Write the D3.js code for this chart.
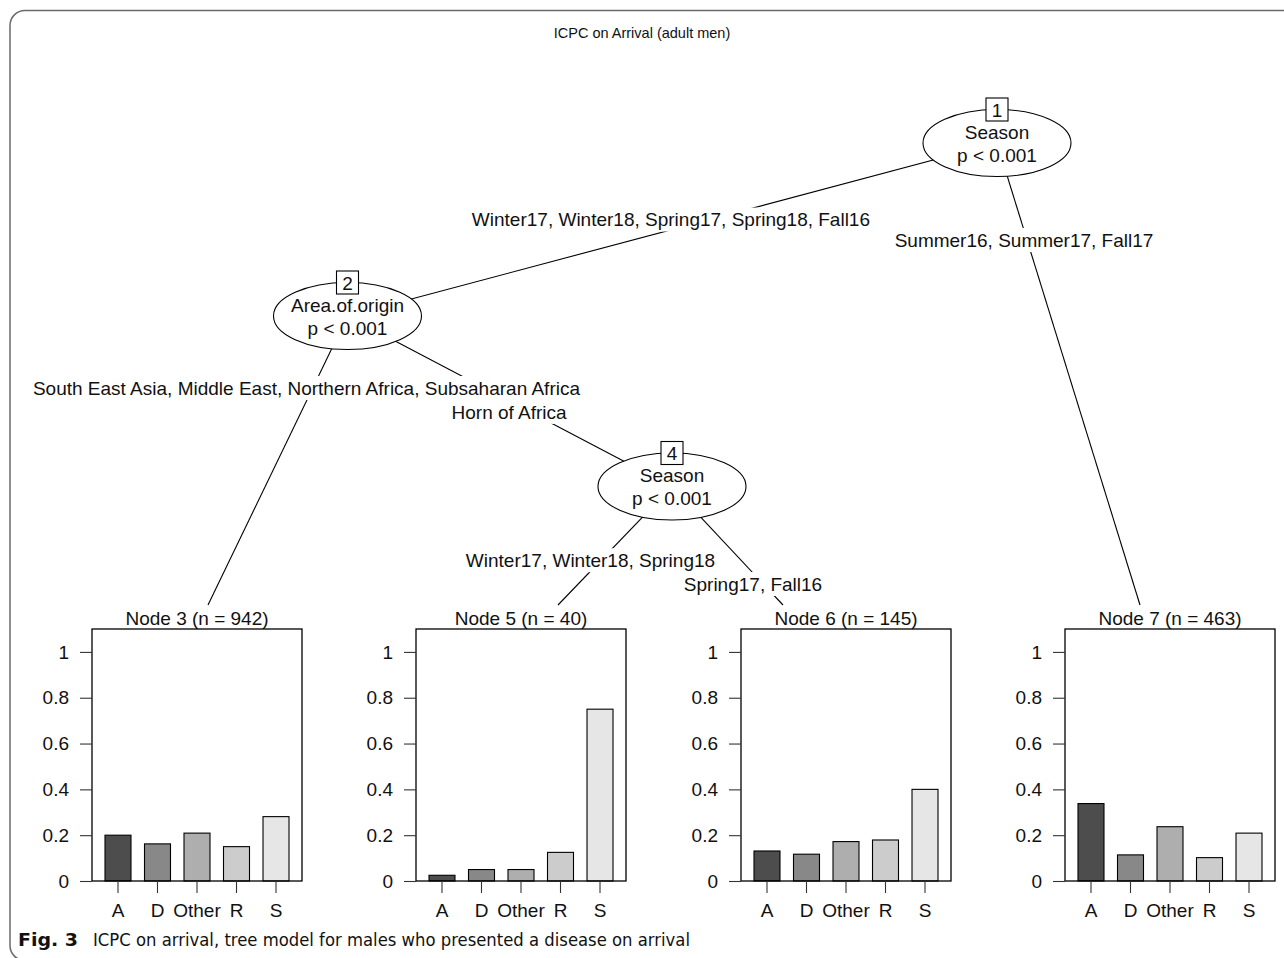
<!DOCTYPE html>
<html>
<head>
<meta charset="utf-8">
<script src="https://cdn.jsdelivr.net/npm/d3@7/dist/d3.min.js"></script>
<style>
  html, body { margin: 0; padding: 0; background: #fff; }
  svg { display: block; }
  text { font-family: "Liberation Sans", Arial, Helvetica, sans-serif; fill: #111; }
</style>
</head>
<body>
<svg id="chart" width="1284" height="958"></svg>
<script>
// ---- data -------------------------------------------------------------
const categories = ["A", "D", "Other", "R", "S"];
const barColors = ["#4d4d4d", "#888888", "#aeaeae", "#cccccc", "#e6e6e6"];

const terminalIds = [3, 5, 6, 7];
const terminalN = [942, 40, 145, 463];
const node3Props = [0.200, 0.162, 0.209, 0.150, 0.281];
const node5Props = [0.025, 0.050, 0.050, 0.125, 0.750];
const node6Props = [0.131, 0.117, 0.172, 0.179, 0.400];
const node7Props = [0.338, 0.114, 0.237, 0.102, 0.209];
const terminalProps = [node3Props, node5Props, node6Props, node7Props];

const yTickValues = [0, 0.2, 0.4, 0.6, 0.8, 1];
const yTickLabels = ["0", "0.2", "0.4", "0.6", "0.8", "1"];

const innerIds = [1, 2, 4];
const innerVars = ["Season", "Area.of.origin", "Season"];
const innerP = ["p < 0.001", "p < 0.001", "p < 0.001"];

// edges: parent -> child, with split labels
const edgeFrom = [1, 1, 2, 2, 4, 4];
const edgeTo = [2, 7, 3, 4, 5, 6];
const edgeLabels = [
  "Winter17, Winter18, Spring17, Spring18, Fall16",
  "Summer16, Summer17, Fall17",
  "South East Asia, Middle East, Northern Africa, Subsaharan Africa",
  "Horn of Africa",
  "Winter17, Winter18, Spring18",
  "Spring17, Fall16"
];

const chartTitle = "ICPC on Arrival (adult men)";
const captionBold = "Fig. 3";
const captionText = "ICPC on arrival, tree model for males who presented a disease on arrival";

// ---- layout -----------------------------------------------------------
const FONT = 19;
const innerPos = { 1: [997, 143], 2: [347.5, 316], 4: [672, 486.5] };
const ellRx = 74, ellRy = 33.5;
const panelLeft = [92, 416, 741, 1065];
const panelW = 210;
const panelTop = 629, panelBottom = 881;
const edgeTargetX = { 3: 208, 5: 558, 6: 783, 7: 1140 };
const edgeTargetY = 605;
// label placement along each edge: fraction t and vertical shift
const labelT = [0.502, 0.189, 0.294, 0.498, 0.715, 0.73];
const labelDy = [-10.3, 9.7, -13, 11, -11, 11];

const svg = d3.select("#chart");

// outer rounded frame
svg.append("rect")
  .attr("x", 10).attr("y", 10.5)
  .attr("width", 1300).attr("height", 950)
  .attr("rx", 15).attr("ry", 15)
  .attr("fill", "none").attr("stroke", "#6a6a6a").attr("stroke-width", 1.5);

// title
svg.append("text")
  .attr("x", 642).attr("y", 38)
  .attr("text-anchor", "middle")
  .attr("font-size", 14.5)
  .text(chartTitle);

function nodePoint(id) {
  if (innerPos[id]) return innerPos[id];
  return [edgeTargetX[id], edgeTargetY];
}

// edges
const edges = edgeFrom.map((f, i) => {
  const p = nodePoint(f), q = nodePoint(edgeTo[i]);
  return { p, q, label: edgeLabels[i], t: labelT[i], dy: labelDy[i] };
});

svg.append("g").selectAll("line").data(edges).join("line")
  .attr("x1", d => d.p[0]).attr("y1", d => d.p[1])
  .attr("x2", d => d.q[0]).attr("y2", d => d.q[1])
  .attr("stroke", "#000").attr("stroke-width", 1.1);

// edge labels with white backgrounds
const labG = svg.append("g");
edges.forEach(d => {
  const cx = d.p[0] + (d.q[0] - d.p[0]) * d.t;
  const cy = d.p[1] + (d.q[1] - d.p[1]) * d.t + d.dy;
  const g = labG.append("g");
  const txt = g.append("text")
    .attr("x", cx).attr("y", cy + FONT * 0.36)
    .attr("text-anchor", "middle")
    .attr("font-size", FONT)
    .text(d.label);
  const w = txt.node().getComputedTextLength();
  g.insert("rect", "text")
    .attr("x", cx - w / 2 - 2).attr("y", cy - 12)
    .attr("width", w + 4).attr("height", 24)
    .attr("fill", "#fff");
});

// inner nodes
innerIds.forEach((id, i) => {
  const [cx, cy] = innerPos[id];
  const g = svg.append("g");
  g.append("ellipse")
    .attr("cx", cx).attr("cy", cy).attr("rx", ellRx).attr("ry", ellRy)
    .attr("fill", "#fff").attr("stroke", "#000").attr("stroke-width", 1.1);
  g.append("text")
    .attr("x", cx).attr("y", cy - 4.5)
    .attr("text-anchor", "middle").attr("font-size", FONT)
    .text(innerVars[i]);
  g.append("text")
    .attr("x", cx).attr("y", cy + 18.5)
    .attr("text-anchor", "middle").attr("font-size", FONT)
    .text(innerP[i]);
  // node number box
  g.append("rect")
    .attr("x", cx - 11).attr("y", cy - ellRy - 11.5)
    .attr("width", 22).attr("height", 23)
    .attr("fill", "#fff").attr("stroke", "#000").attr("stroke-width", 1.1);
  g.append("text")
    .attr("x", cx).attr("y", cy - ellRy + 7)
    .attr("text-anchor", "middle").attr("font-size", FONT)
    .text(id);
});

// terminal bar panels
const y = d3.scaleLinear().domain([0, 1.1]).range([panelBottom, panelTop]);

terminalIds.forEach((id, k) => {
  const L = panelLeft[k];
  const x = d3.scaleBand().domain(categories)
    .range([L, L + panelW]).paddingInner(0.342).paddingOuter(0.329);
  const g = svg.append("g");
  const rows = categories.map((c, i) => ({ c, v: terminalProps[k][i], col: barColors[i] }));

  g.append("text")
    .attr("x", L + panelW / 2).attr("y", 625)
    .attr("text-anchor", "middle").attr("font-size", FONT)
    .text(`Node ${id} (n = ${terminalN[k]})`);

  g.selectAll("rect.bar").data(rows).join("rect")
    .attr("class", "bar")
    .attr("x", d => x(d.c)).attr("width", x.bandwidth())
    .attr("y", d => y(d.v)).attr("height", d => y(0) - y(d.v))
    .attr("fill", d => d.col).attr("stroke", "#000").attr("stroke-width", 1.1);

  g.append("rect")
    .attr("x", L).attr("y", panelTop)
    .attr("width", panelW).attr("height", panelBottom - panelTop)
    .attr("fill", "none").attr("stroke", "#000").attr("stroke-width", 1.3);

  const yAxis = d3.axisLeft(y).tickValues(yTickValues)
    .tickFormat((d, i) => yTickLabels[i]).tickSize(12).tickPadding(11);
  const ya = g.append("g").attr("transform", `translate(${L},0)`).call(yAxis);
  ya.select(".domain").remove();
  ya.selectAll("line").attr("stroke", "#333").attr("stroke-width", 1.1);
  ya.selectAll("text").attr("font-size", FONT).attr("font-family", null).attr("fill", "#111");

  const xAxis = d3.axisBottom(x).tickSize(12).tickPadding(11);
  const xa = g.append("g").attr("transform", `translate(0,${panelBottom})`).call(xAxis);
  xa.select(".domain").remove();
  xa.selectAll("line").attr("stroke", "#333").attr("stroke-width", 1.1);
  xa.selectAll("text").attr("font-size", FONT).attr("font-family", null).attr("fill", "#111");
});

// caption
const capFont = "'Liberation Sans Narrow', 'DejaVu Sans Condensed', 'Liberation Sans', sans-serif";
svg.append("text")
  .attr("x", 18).attr("y", 946)
  .attr("font-size", 18.5).attr("font-weight", "bold")
  .attr("textLength", 60).attr("lengthAdjust", "spacingAndGlyphs")
  .style("font-family", capFont).attr("fill", "#222")
  .text(captionBold);
svg.append("text")
  .attr("x", 93).attr("y", 946)
  .attr("font-size", 18.5)
  .attr("textLength", 597).attr("lengthAdjust", "spacingAndGlyphs")
  .style("font-family", capFont).attr("fill", "#222")
  .text(captionText);
</script>
</body>
</html>
